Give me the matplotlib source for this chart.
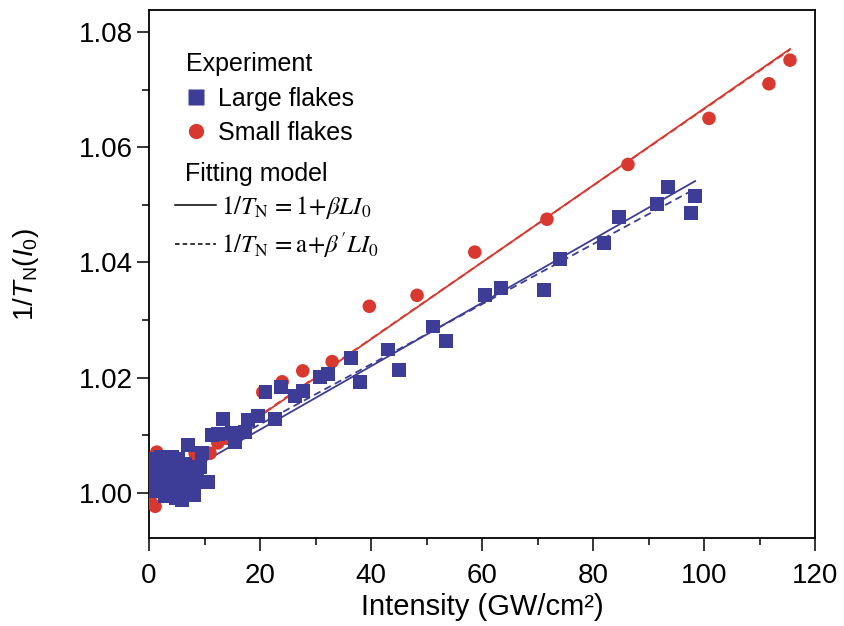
import numpy as np
import matplotlib
matplotlib.use("Agg")
import matplotlib.pyplot as plt
from matplotlib.lines import Line2D
from matplotlib.font_manager import FontProperties

plt.rcParams['font.family'] = ['Liberation Sans', 'DejaVu Sans']
plt.rcParams['mathtext.fontset'] = 'custom'
plt.rcParams['mathtext.rm'] = 'Liberation Sans'
plt.rcParams['mathtext.it'] = 'Liberation Sans:italic'
plt.rcParams['mathtext.bf'] = 'Liberation Sans:bold'

# ---------------- data ----------------
large_x = [0.4, 0.5, 0.6, 0.8, 1.0, 1.1, 1.3, 1.5, 1.7, 1.9, 2.1, 2.3, 2.5, 2.7, 2.9,
           3.1, 3.3, 3.5, 3.7, 3.9, 4.1, 4.3, 4.5, 4.7, 4.9, 5.1, 5.3, 5.5, 5.7, 5.9,
           6.2, 6.5, 6.8, 7.0, 7.2, 7.5, 7.8, 8.2, 8.5,
           8.7, 9.2, 9.5, 10.6, 11.3, 12.5, 13.3, 15.0, 15.5, 17.3, 17.8, 19.6, 21.0,
           22.7, 23.8, 26.3, 27.7, 30.8, 32.3, 36.4, 38.0, 43.0, 45.0, 51.2, 53.5,
           60.5, 63.4, 71.2, 74.0, 82.0, 84.7, 91.5, 93.5, 97.6, 98.3]
large_y = [1.0050, 1.0030, 1.0010, 1.0060, 1.0040, 1.0020, 1.0003, 1.0055, 1.0035, 1.0015,
           1.0062, 1.0045, 1.0025, 1.0005, 0.9995, 1.0058, 1.0038, 1.0018, 1.0030, 1.0000,
           1.0062, 1.0048, 1.0010, 1.0025, 0.9992, 1.0040, 1.0060, 1.0005, 1.0030, 0.9988,
           1.0015, 1.0050, 1.0000, 1.0083, 1.0030, 1.0010, 1.0045, 0.9996, 1.0020,
           1.0030, 1.0045, 1.0069, 1.0019, 1.0101, 1.0103, 1.0128, 1.0104, 1.0089, 1.0106,
           1.0126, 1.0133, 1.0175, 1.0128, 1.0184, 1.0168, 1.0177, 1.0201, 1.0207, 1.0234,
           1.0192, 1.0249, 1.0214, 1.0289, 1.0263, 1.0343, 1.0355, 1.0352, 1.0406, 1.0434,
           1.0479, 1.0501, 1.0531, 1.0486, 1.0515]

small_x = [0.2, 1.1, 1.4, 2.0, 3.0, 4.5, 7.7, 8.3, 8.8, 11.0, 12.4, 14.0, 20.5, 24.0,
           27.7, 33.0, 39.7, 48.3, 58.7, 71.7, 86.3, 100.9, 111.7, 115.5]
small_y = [0.9988, 0.9977, 1.0071, 1.0040, 1.0010, 1.0030, 1.0052, 1.0069, 1.0023, 1.0069,
           1.0087, 1.0095, 1.0175, 1.0193, 1.0212, 1.0228, 1.0324, 1.0343, 1.0418, 1.0475,
           1.0570, 1.0650, 1.0710, 1.0751]

# fitting model parameters: y = a + slope * I
small_fit_solid = (1.0, 6.67e-4)
small_fit_dashed = (1.0002, 6.64e-4)
large_fit_solid = (1.0, 5.50e-4)
large_fit_dashed = (1.0015, 5.21e-4)
small_fit_range = (0.0, 115.5)
large_fit_range = (0.0, 98.4)

xticks = [0, 20, 40, 60, 80, 100, 120]
yticks = [1.00, 1.02, 1.04, 1.06, 1.08]

blue = '#3d3d98'
red = '#d8382f'

fig = plt.figure(figsize=(8.44, 6.26), dpi=100)
ax = fig.add_axes([149/844, 1-538/626, (815-149)/844, (538-10)/626])

def fit_line(params, rng, n=2):
    xs = np.linspace(rng[0], rng[1], n)
    return xs, params[0] + params[1]*xs

xs, ys = fit_line(small_fit_solid, small_fit_range)
ax.plot(xs, ys, color=red, lw=1.3, zorder=2)
xs, ys = fit_line(small_fit_dashed, small_fit_range)
ax.plot(xs, ys, color=red, lw=1.3, ls=(0, (4, 2.5)), zorder=2)
xs, ys = fit_line(large_fit_solid, large_fit_range)
ax.plot(xs, ys, color=blue, lw=1.3, zorder=2)
xs, ys = fit_line(large_fit_dashed, large_fit_range)
ax.plot(xs, ys, color=blue, lw=1.3, ls=(0, (4, 2.5)), zorder=2)

ax.scatter(small_x, small_y, s=95, marker='o', color=red, edgecolors='none', zorder=3)
ax.scatter(large_x, large_y, s=100, marker='s', color=blue, edgecolors='none', zorder=4)

ax.set_xlim(0, 120)
ax.set_ylim(0.9922, 1.0838)
ax.set_xticks(xticks)
ax.set_yticks(yticks)
ax.set_yticklabels([f'{v:.2f}' for v in yticks])
ax.set_xticks(np.arange(10, 120, 20), minor=True)
ax.set_yticks([1.01, 1.03, 1.05, 1.07], minor=True)
ax.tick_params(which='major', direction='out', length=9, width=1.1, labelsize=20)
ax.tick_params(which='minor', direction='out', length=5, width=1.1)
ax.tick_params(axis='x', which='major', pad=9)
ax.tick_params(axis='y', which='major', pad=2.5)
for sp in ax.spines.values():
    sp.set_linewidth(1.3)

ax.set_xlabel('Intensity (GW/cm²)', fontsize=21, labelpad=3)
ax.set_ylabel(r'1/$T_\mathrm{N}$($I_0$)', fontsize=20, labelpad=27)

# legends
fs = 18
h1 = [Line2D([], [], ls='none', marker='s', ms=11, color=blue, mec='none'),
      Line2D([], [], ls='none', marker='o', ms=11, color=red, mec='none')]
leg1 = ax.legend(h1, ['Large flakes', 'Small flakes'], loc='upper left',
                 bbox_to_anchor=(0.055, 0.92), frameon=False, fontsize=fs,
                 title='Experiment', title_fontsize=fs, alignment='left',
                 handlelength=0.8, handletextpad=0.5, labelspacing=0.42,
                 borderaxespad=0, borderpad=0)
ax.add_artist(leg1)

ax.text(0.054, 0.69, 'Fitting model', transform=ax.transAxes, fontsize=fs,
        ha='left', va='center')

mprop = FontProperties(family='Liberation Serif', size=18, math_fontfamily='stix')
h2 = [Line2D([], [], color='black', lw=1.1),
      Line2D([], [], color='black', lw=1.1, ls=(0, (3, 2)))]
labels2 = [r'$\mathit{1/T}_{\mathrm{N}}\, = \mathrm{1}\!+\!\beta L I_{0}$',
           r"$\mathit{1/T}_{\mathrm{N}}\, = \mathrm{a}\!+\!\beta' L I_{0}$"]
leg2 = ax.legend(h2, labels2, loc='upper left', bbox_to_anchor=(0.039, 0.652),
                 frameon=False, prop=mprop, handlelength=1.65, handletextpad=0.2,
                 labelspacing=0.38, borderaxespad=0, borderpad=0)

fig.savefig('out.png', dpi=100)
